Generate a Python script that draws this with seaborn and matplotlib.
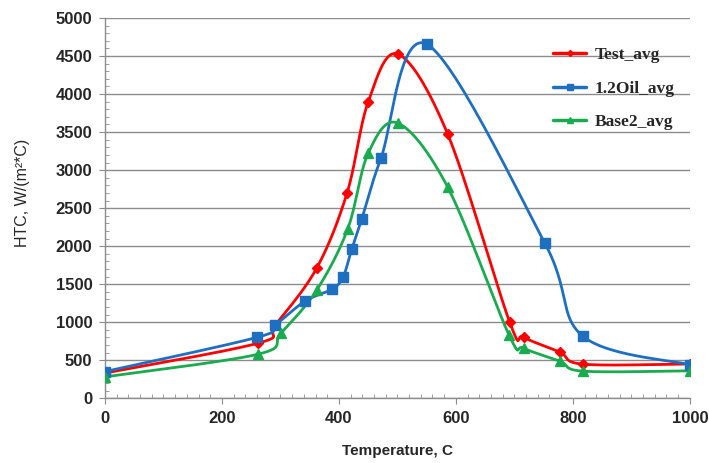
import matplotlib
matplotlib.use('Agg')
import matplotlib.pyplot as plt
import seaborn as sns
import numpy as np
import pandas as pd
from matplotlib.ticker import MultipleLocator

# Values
test_temp = [0, 262, 291, 362, 414, 450, 501, 586, 692, 716, 778, 818, 1000]
test_htc = [330, 724, 960, 1710, 2700, 3895, 4526, 3474, 1000, 803, 605, 447, 450]

oil_temp = [0, 260, 291, 342, 388, 407, 422, 439, 472, 550, 752, 817, 1000]
oil_htc = [350, 800, 960, 1276, 1434, 1592, 1960, 2355, 3158, 4658, 2040, 816, 440]

base_temp = [0, 262, 301, 362, 415, 450, 501, 586, 691, 716, 778, 818, 1000]
base_htc = [280, 579, 855, 1421, 2224, 3220, 3618, 2776, 829, 658, 487, 355, 360]

series_names = ['Test_avg', '1.2Oil_avg', 'Base2_avg']
series_colors = ['#ff0000', '#1f6fc0', '#1aaa50']
series_markers = ['D', 's', '^']
marker_sizes = [5, 7, 7]


def smooth(xs, ys, n=30):
    # Excel-style smoothed line (Catmull-Rom as cubic Bezier)
    p = np.column_stack([xs, ys]).astype(float)
    pts = [p[0]]
    for i in range(len(p) - 1):
        p0 = p[i - 1] if i > 0 else p[i]
        p3 = p[i + 2] if i + 2 < len(p) else p[i + 1]
        c1 = p[i] + (p[i + 1] - p0) / 6
        c2 = p[i + 1] - (p3 - p[i]) / 6
        t = np.linspace(0, 1, n)[1:, None]
        seg = ((1 - t) ** 3) * p[i] + 3 * ((1 - t) ** 2) * t * c1 \
            + 3 * (1 - t) * t ** 2 * c2 + t ** 3 * p[i + 1]
        pts.extend(seg)
    pts = np.array(pts)
    return pts[:, 0], pts[:, 1]


sns.set_style('white')
plt.rcParams['font.family'] = ['Liberation Sans', 'DejaVu Sans']

fig = plt.figure(figsize=(7.09, 4.63), dpi=100)
ax = fig.add_axes([0.148, 0.140, 0.825, 0.821])

data = [(test_temp, test_htc), (oil_temp, oil_htc), (base_temp, base_htc)]
handles = []
for (xs, ys), name, col, mk, ms in zip(data, series_names, series_colors,
                                        series_markers, marker_sizes):
    sx, sy = smooth(xs, ys)
    curve = pd.DataFrame({'x': sx, 'y': sy})
    sns.lineplot(data=curve, x='x', y='y', sort=False, estimator=None,
                 color=col, linewidth=2.0, ax=ax)
    ax.plot(xs, ys, linestyle='none', marker=mk, color=col,
            markersize=ms, zorder=4)
    h, = ax.plot([], [], color=col, linewidth=2.5, marker=mk,
                 markersize=ms * 0.6, label=name)
    handles.append(h)

ax.set_xlim(0, 1000)
ax.set_ylim(0, 5000)
ax.xaxis.set_major_locator(MultipleLocator(200))
ax.xaxis.set_minor_locator(MultipleLocator(20))
ax.yaxis.set_major_locator(MultipleLocator(500))
ax.yaxis.set_minor_locator(MultipleLocator(100))
ax.grid(axis='y', which='major', color='#8c8c8c', linewidth=1.0)
ax.grid(axis='x', visible=False)
ax.set_axisbelow(True)

for s in ['top', 'right']:
    ax.spines[s].set_visible(False)
for s in ['left', 'bottom']:
    ax.spines[s].set_color('#8c8c8c')
    ax.spines[s].set_linewidth(1.0)

ax.tick_params(which='major', direction='out', length=4, color='#8c8c8c',
               labelsize=12, pad=5, bottom=True, left=True)
ax.tick_params(which='minor', direction='in', length=3, color='#8c8c8c',
               bottom=True, left=True)
for lbl in ax.get_xticklabels() + ax.get_yticklabels():
    lbl.set_fontweight('bold')

ax.set_xlabel('Temperature, C', fontsize=11, fontweight='bold')
ax.set_ylabel('HTC, W/(m²*C)', fontsize=11.5)
ax.xaxis.set_label_coords(0.5, -0.12)
ax.yaxis.set_label_coords(-0.128, 0.54)

leg = ax.legend(handles=handles, loc='upper left',
                bbox_to_anchor=(0.74, 0.965), frameon=False,
                prop={'family': 'Liberation Serif', 'weight': 'bold',
                      'size': 12.5},
                handlelength=1.9, handletextpad=0.5, labelspacing=1.0)

fig.savefig('out.png', dpi=100)
